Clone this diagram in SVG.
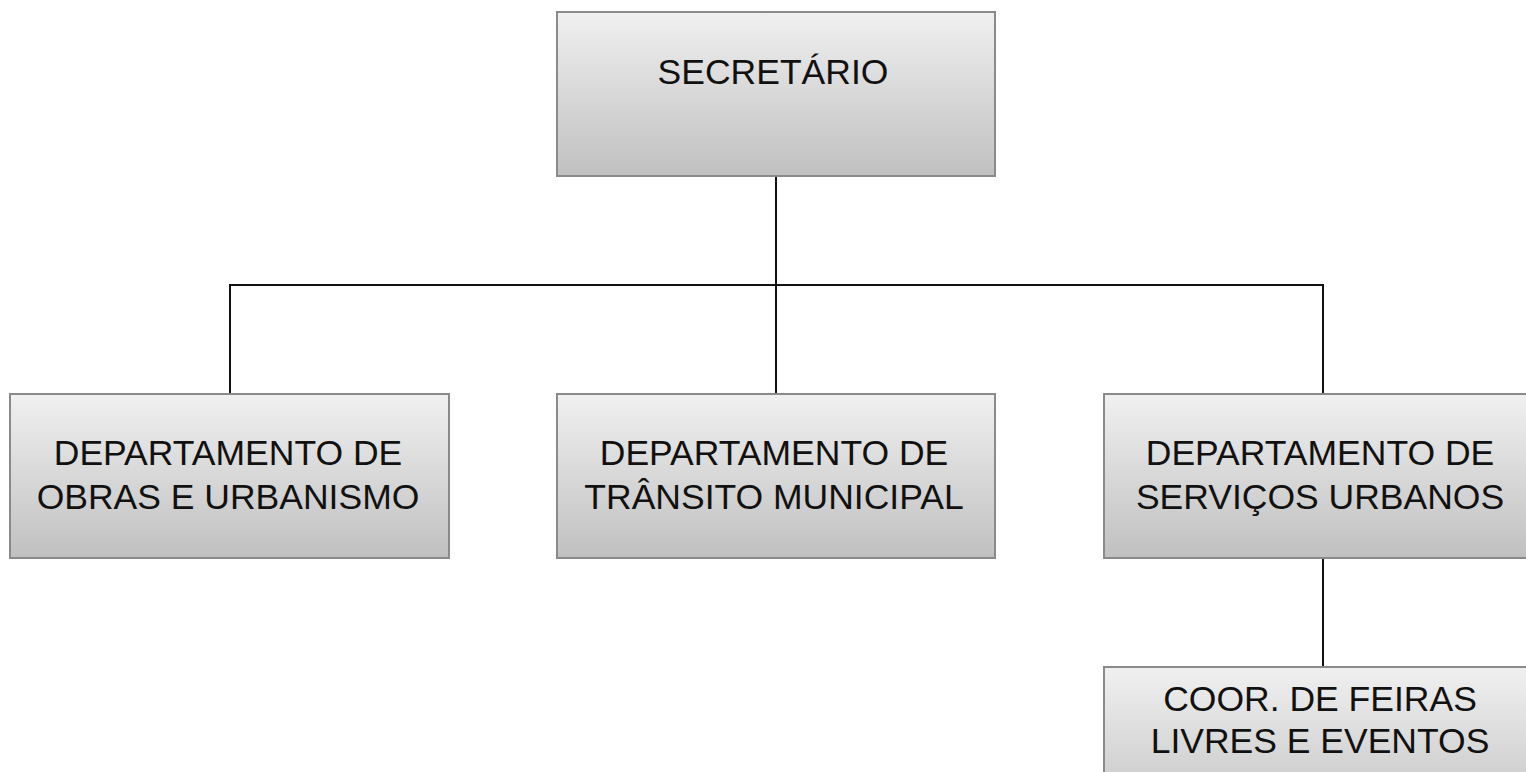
<svg xmlns="http://www.w3.org/2000/svg" width="1526" height="772" viewBox="0 0 1526 772">
<defs>
<linearGradient id="g" x1="0" y1="0" x2="0" y2="1">
<stop offset="0" stop-color="#f0f0f0"/>
<stop offset="1" stop-color="#c0c0c0"/>
</linearGradient>
</defs>
<style>
.box{fill:url(#g);stroke:#8a8a8a;stroke-width:2}
.t{font-family:"Liberation Sans",Arial,sans-serif;font-size:35.5px;fill:#111;text-anchor:middle}
.c{fill:none;stroke:#111;stroke-width:2}
</style>
<rect width="1526" height="772" fill="#fff"/>
<g id="connectors">
<path class="c" d="M776 176V394"/>
<path class="c" d="M230 394V285H1323V394"/>
<path class="c" d="M1323 558V667"/>
</g>
<g id="secretario">
<rect class="box" x="557" y="12" width="438" height="164"/>
<text class="t" x="773" y="84">SECRETÁRIO</text>
</g>
<g id="obras">
<rect class="box" x="10" y="394" width="439" height="164"/>
<text class="t" x="228" y="465">DEPARTAMENTO DE</text>
<text class="t" x="228" y="509">OBRAS E URBANISMO</text>
</g>
<g id="transito">
<rect class="box" x="557" y="394" width="438" height="164"/>
<text class="t" x="774" y="465">DEPARTAMENTO DE</text>
<text class="t" x="774" y="509">TRÂNSITO MUNICIPAL</text>
</g>
<g id="servicos">
<rect class="box" x="1104" y="394" width="438" height="164"/>
<text class="t" x="1320" y="465">DEPARTAMENTO DE</text>
<text class="t" x="1320" y="509">SERVIÇOS URBANOS</text>
</g>
<g id="feiras">
<rect class="box" x="1104" y="667" width="438" height="164"/>
<text class="t" x="1320" y="711">COOR. DE FEIRAS</text>
<text class="t" x="1320" y="753">LIVRES E EVENTOS</text>
</g>
</svg>
